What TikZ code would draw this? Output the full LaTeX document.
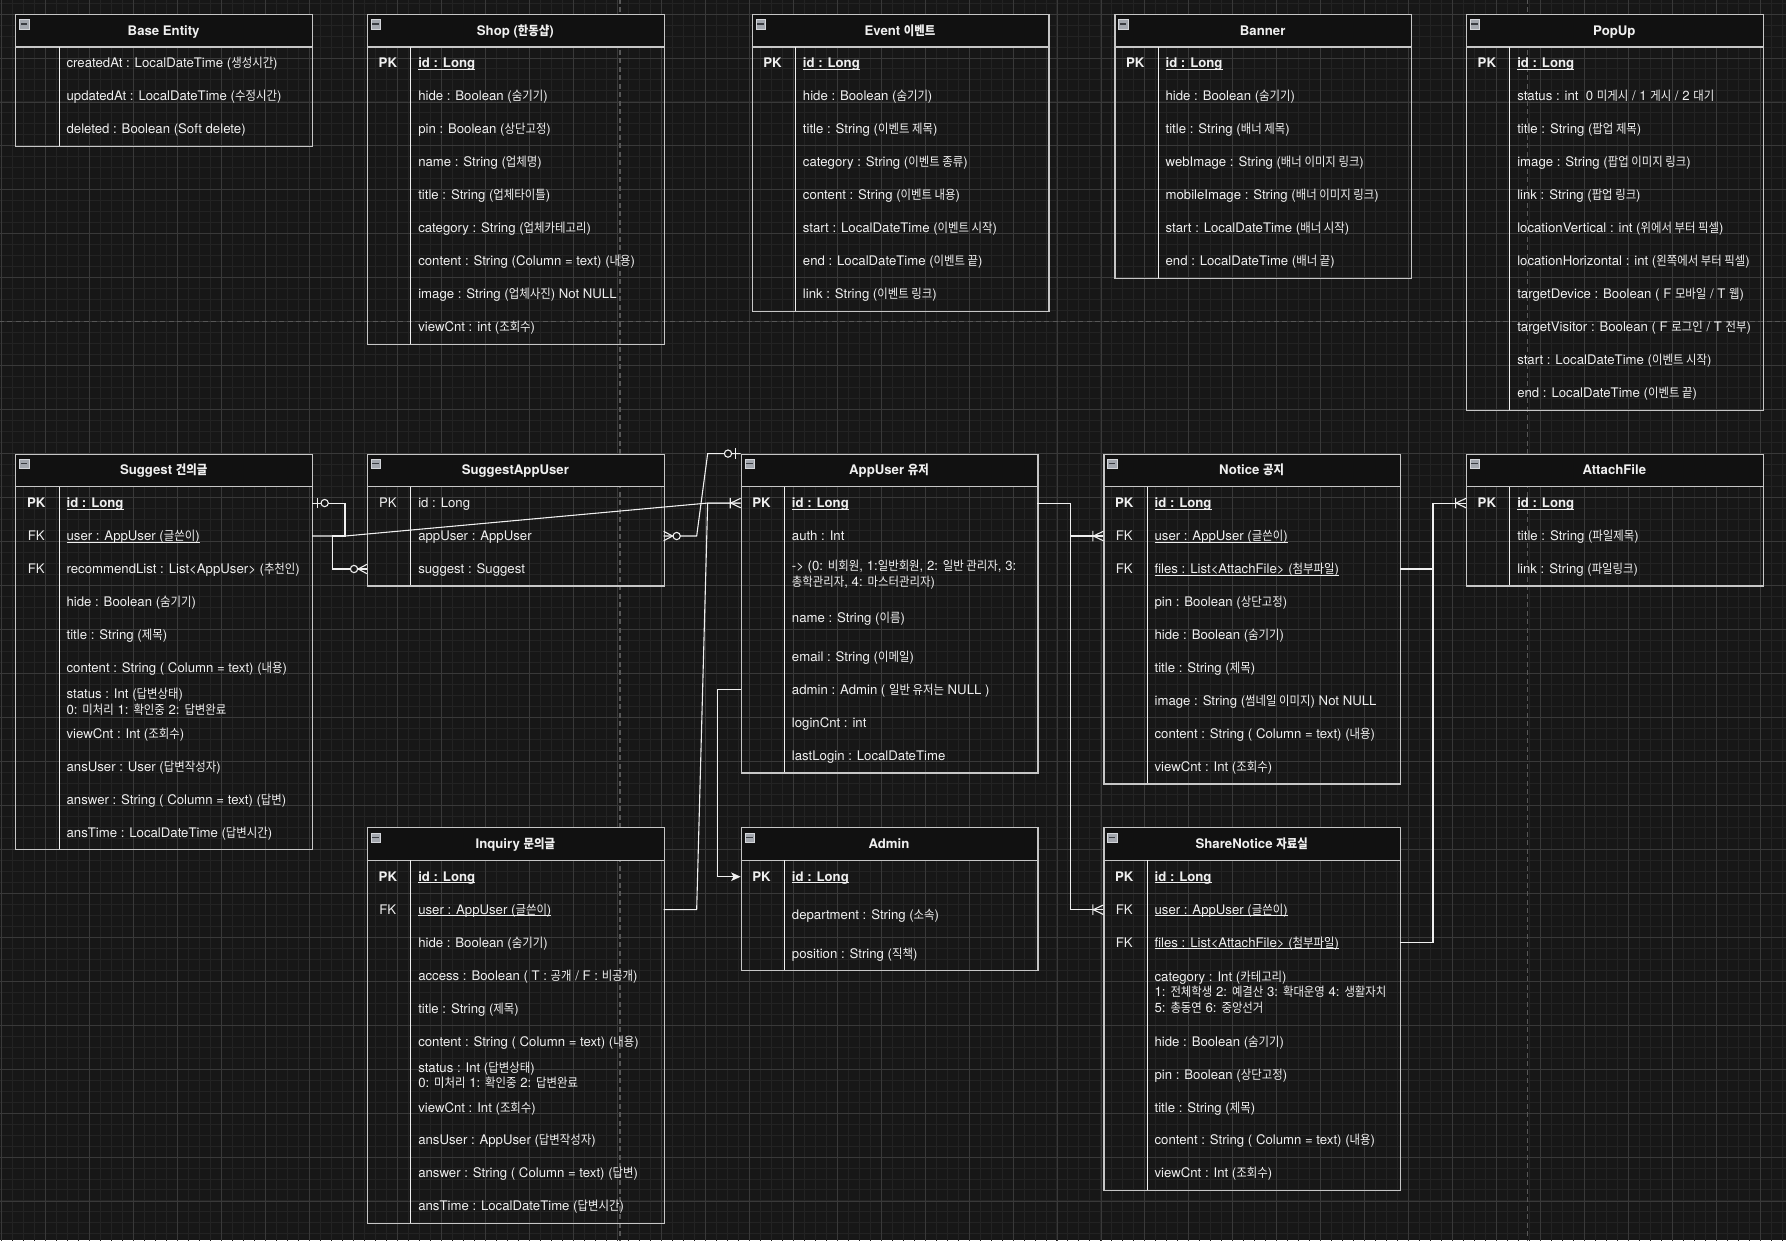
\documentclass[tikz,border=0pt]{standalone}
\usepackage{fontspec}
\setmainfont{TeX Gyre Heros}
\newfontfamily\krfont[Scale=0.96,FakeStretch=0.9]{Noto Sans CJK KR}
\usetikzlibrary{arrows.meta}
\definecolor{bg}{HTML}{171717}
\definecolor{gridminorc}{HTML}{232323}
\definecolor{gridmajorc}{HTML}{393939}
\definecolor{pagebrkc}{HTML}{575757}
\definecolor{hdrc}{HTML}{111111}
\definecolor{frmc}{HTML}{C6C6C6}
\definecolor{ink}{HTML}{F0F0F0}
\definecolor{iconfill}{HTML}{A3A7AE}
\definecolor{iconline}{HTML}{3A3D42}
\definecolor{iconbd}{HTML}{D4D6DA}

\newcommand\krt[1]{{\krfont #1}}
\newcommand\undl[1]{\setbox0=\hbox{#1}\rlap{\rule[-2.1pt]{\wd0}{0.9pt}}\box0}

\tikzset{
  gridminor/.style={draw=gridminorc, line width=0.9pt},
  gridmajor/.style={draw=gridmajorc, line width=0.8pt},
  pagebreak/.style={draw=pagebrkc, line width=1.1pt, dash pattern=on 5pt off 3.5pt},
  tblframe/.style={draw=frmc, line width=1.2pt, minimum width=296.73pt, inner sep=0pt, anchor=north west},
  hdrline/.style={draw=frmc, line width=1.2pt},
  keysep/.style={draw=ink, line width=1pt},
  tblicon/.style={draw=iconbd, fill=iconfill, line width=0.5pt, minimum size=9.3pt, inner sep=0pt, anchor=north west},
  iconminus/.style={draw=iconline, line width=1.4pt},
  hdrtxt/.style={font=\fontsize{13.19pt}{15.6pt}\selectfont\bfseries, text=ink, inner sep=0pt, anchor=base},
  rowtxt/.style={font=\fontsize{13.19pt}{15.6pt}\selectfont, text=ink, inner sep=0pt, anchor=base west},
  keytxt/.style={font=\fontsize{13.19pt}{15.6pt}\selectfont, text=ink, inner sep=0pt, anchor=base},
  keyb/.style={font=\fontsize{13.19pt}{15.6pt}\selectfont\bfseries, text=ink, inner sep=0pt, anchor=base},
  conn/.style={draw=ink, line width=1.1pt},
}

% #1 name, #2 X, #3 Y, #4 height (units), #5 title
\newcommand\ertable[5]{%
  \fill[hdrc] (#2,#3) rectangle (#2+270,#3+30);
  \node[tblframe, minimum height=#4*1.099pt] (#1) at (#2,#3) {};
  \draw[hdrline] (#2,#3+30) -- (#2+270,#3+30);
  \draw[keysep] (#2+40,#3+30) -- (#2+40,#3+#4);
  \node[hdrtxt] (#1-title) at (#2+135,#3+19.3) {#5};
  \node[tblicon] (#1-icon) at (#2+3.6,#3+4.8) {};
  \draw[iconminus] (#2+5,#3+9.1) -- (#2+10.8,#3+9.1);
}
\newcommand\rowtext[4]{\node[rowtxt] (#1) at (#2+46.5,#3) {#4};}
\newcommand\keytext[4]{\node[keytxt] (#1) at (#2+19,#3) {#4};}
\newcommand\keybold[4]{\node[keyb] (#1) at (#2+19,#3) {#4};}

\newcommand\mkonemany[2]{\draw[conn, shift={(#1)}, xscale=#2] (-9,0) -- (0,-4.3) (-9,0) -- (0,4.3) (-9.5,-4.8) -- (-9.5,4.8);}
\newcommand\mkzeromany[2]{\draw[conn, shift={(#1)}, xscale=#2] (-8,0) -- (0,-4.3) (-8,0) -- (0,4.3);
  \draw[conn, fill=bg, shift={(#1)}, xscale=#2] (-11.8,0) circle[radius=3.3];}
\newcommand\mkzeroone[2]{\draw[conn, shift={(#1)}, xscale=#2] (-4.6,-4.8) -- (-4.6,4.8);
  \draw[conn, fill=bg, shift={(#1)}, xscale=#2] (-11.5,0) circle[radius=3.3];}

\begin{document}
\begin{tikzpicture}[x=1.099pt,y=-1.099pt]
\useasboundingbox (-13.92,-12.74) rectangle (1611.2,1115.6);
\fill[bg] (-13.92,-12.74) rectangle (1611.2,1115.6);
\begin{scope}
  \clip (-13.92,-12.74) rectangle (1611.2,1115.6);
  \foreach \gx in {-2.2,7.8,...,1612} \draw[gridminor] (\gx,-14) -- (\gx,1117);
  \foreach \gy in {-10,0,...,1116} \draw[gridminor] (-15,\gy) -- (1613,\gy);
  \foreach \gx in {-12.2,27.8,...,1612} \draw[gridmajor] (\gx,-14) -- (\gx,1117);
  \foreach \gy in {0,40,...,1116} \draw[gridmajor] (-15,\gy) -- (1613,\gy);
  \draw[pagebreak] (550.2,-14) -- (550.2,1117);
  \draw[pagebreak] (1376.3,-14) -- (1376.3,1117);
  \draw[pagebreak] (-15,280) -- (1613,280);
\end{scope}

% ---------- Base Entity
\ertable{be}{0}{0}{120}{Base Entity}
\rowtext{be-r1}{0}{49.1}{createdAt : LocalDateTime (\krt{생성시간})}
\rowtext{be-r2}{0}{79.1}{updatedAt : LocalDateTime (\krt{수정시간})}
\rowtext{be-r3}{0}{109.1}{deleted : Boolean (Soft delete)}

% ---------- Shop
\ertable{shop}{320}{0}{300}{Shop (\krt{한동샵})}
\keybold{shop-k1}{320}{49.1}{PK}
\rowtext{shop-r1}{320}{49.1}{\undl{\bfseries id : Long}}
\rowtext{shop-r2}{320}{79.1}{hide : Boolean (\krt{숨기기})}
\rowtext{shop-r3}{320}{109.1}{pin : Boolean (\krt{상단고정})}
\rowtext{shop-r4}{320}{139.1}{name : String (\krt{업체명})}
\rowtext{shop-r5}{320}{169.1}{title : String (\krt{업체타이틀})}
\rowtext{shop-r6}{320}{199.1}{category : String (\krt{업체카테고리})}
\rowtext{shop-r7}{320}{229.1}{content : String (Column = text) (\krt{내용})}
\rowtext{shop-r8}{320}{259.1}{image : String (\krt{업체사진}) Not NULL}
\rowtext{shop-r9}{320}{289.1}{viewCnt : int (\krt{조회수})}

% ---------- Event
\ertable{ev}{670}{0}{270}{Event \krt{이벤트}}
\keybold{ev-k1}{670}{49.1}{PK}
\rowtext{ev-r1}{670}{49.1}{\undl{\bfseries id : Long}}
\rowtext{ev-r2}{670}{79.1}{hide : Boolean (\krt{숨기기})}
\rowtext{ev-r3}{670}{109.1}{title : String (\krt{이벤트 제목})}
\rowtext{ev-r4}{670}{139.1}{category : String (\krt{이벤트 종류})}
\rowtext{ev-r5}{670}{169.1}{content : String (\krt{이벤트 내용})}
\rowtext{ev-r6}{670}{199.1}{start : LocalDateTime (\krt{이벤트 시작})}
\rowtext{ev-r7}{670}{229.1}{end : LocalDateTime (\krt{이벤트 끝})}
\rowtext{ev-r8}{670}{259.1}{link : String (\krt{이벤트 링크})}

% ---------- Banner
\ertable{bn}{1000}{0}{240}{Banner}
\keybold{bn-k1}{1000}{49.1}{PK}
\rowtext{bn-r1}{1000}{49.1}{\undl{\bfseries id : Long}}
\rowtext{bn-r2}{1000}{79.1}{hide : Boolean (\krt{숨기기})}
\rowtext{bn-r3}{1000}{109.1}{title : String (\krt{배너 제목})}
\rowtext{bn-r4}{1000}{139.1}{webImage : String (\krt{배너 이미지 링크})}
\rowtext{bn-r5}{1000}{169.1}{mobileImage : String (\krt{배너 이미지 링크})}
\rowtext{bn-r6}{1000}{199.1}{start : LocalDateTime (\krt{배너 시작})}
\rowtext{bn-r7}{1000}{229.1}{end : LocalDateTime (\krt{배너 끝})}

% ---------- PopUp
\ertable{pu}{1320}{0}{360}{PopUp}
\keybold{pu-k1}{1320}{49.1}{PK}
\rowtext{pu-r1}{1320}{49.1}{\undl{\bfseries id : Long}}
\rowtext{pu-r2}{1320}{79.1}{status : int \ 0 \krt{미게시} / 1 \krt{게시} / 2 \krt{대기}}
\rowtext{pu-r3}{1320}{109.1}{title : String (\krt{팝업 제목})}
\rowtext{pu-r4}{1320}{139.1}{image : String (\krt{팝업 이미지 링크})}
\rowtext{pu-r5}{1320}{169.1}{link : String (\krt{팝업 링크})}
\rowtext{pu-r6}{1320}{199.1}{locationVertical : int (\krt{위에서 부터 픽셀})}
\rowtext{pu-r7}{1320}{229.1}{locationHorizontal : int (\krt{왼쪽에서 부터 픽셀})}
\rowtext{pu-r8}{1320}{259.1}{targetDevice : Boolean ( F \krt{모바일} / T \krt{웹})}
\rowtext{pu-r9}{1320}{289.1}{targetVisitor : Boolean ( F \krt{로그인} / T \krt{전부})}
\rowtext{pu-r10}{1320}{319.1}{start : LocalDateTime (\krt{이벤트 시작})}
\rowtext{pu-r11}{1320}{349.1}{end : LocalDateTime (\krt{이벤트 끝})}

% ---------- Suggest
\ertable{sg}{0}{400}{360}{Suggest \krt{건의글}}
\keybold{sg-k1}{0}{449.1}{PK}
\keytext{sg-k2}{0}{479.1}{FK}
\keytext{sg-k3}{0}{509.1}{FK}
\rowtext{sg-r1}{0}{449.1}{\undl{\bfseries id : Long}}
\rowtext{sg-r2}{0}{479.1}{\undl{user : AppUser (\krt{글쓴이})}}
\rowtext{sg-r3}{0}{509.1}{recommendList : List<AppUser> (\krt{추천인})}
\rowtext{sg-r4}{0}{539.1}{hide : Boolean (\krt{숨기기})}
\rowtext{sg-r5}{0}{569.1}{title : String (\krt{제목})}
\rowtext{sg-r6}{0}{599.1}{content : String ( Column = text) (\krt{내용})}
\rowtext{sg-r7a}{0}{623.2}{status : Int (\krt{답변상태})}
\rowtext{sg-r7b}{0}{637.2}{0: \krt{미처리} 1: \krt{확인중} 2: \krt{답변완료}}
\rowtext{sg-r8}{0}{659.1}{viewCnt : Int (\krt{조회수})}
\rowtext{sg-r9}{0}{689.1}{ansUser : User (\krt{답변작성자})}
\rowtext{sg-r10}{0}{719.1}{answer : String ( Column = text) (\krt{답변})}
\rowtext{sg-r11}{0}{749.1}{ansTime : LocalDateTime (\krt{답변시간})}

% ---------- SuggestAppUser
\ertable{sau}{320}{400}{120}{SuggestAppUser}
\keytext{sau-k1}{320}{449.1}{PK}
\rowtext{sau-r1}{320}{449.1}{id : Long}
\rowtext{sau-r2}{320}{479.1}{appUser : AppUser}
\rowtext{sau-r3}{320}{509.1}{suggest : Suggest}

% ---------- AppUser
\ertable{au}{660}{400}{290}{AppUser \krt{유저}}
\keybold{au-k1}{660}{449.1}{PK}
\rowtext{au-r1}{660}{449.1}{\undl{\bfseries id : Long}}
\rowtext{au-r2}{660}{479.1}{auth : Int}
\rowtext{au-r3a}{660}{506.8}{-> (0: \krt{비회원}, 1:\krt{일반회원}, 2: \krt{일반 관리자}, 3:}
\rowtext{au-r3b}{660}{521.0}{\krt{총학관리자}, 4: \krt{마스터관리자})}
\rowtext{au-r4}{660}{554.1}{name : String (\krt{이름})}
\rowtext{au-r5}{660}{589.1}{email : String (\krt{이메일})}
\rowtext{au-r6}{660}{619.1}{admin : Admin ( \krt{일반 유저는} NULL )}
\rowtext{au-r7}{660}{649.1}{loginCnt : int}
\rowtext{au-r8}{660}{679.1}{lastLogin : LocalDateTime}

% ---------- Notice
\ertable{nt}{990}{400}{300}{Notice \krt{공지}}
\keybold{nt-k1}{990}{449.1}{PK}
\keytext{nt-k2}{990}{479.1}{FK}
\keytext{nt-k3}{990}{509.1}{FK}
\rowtext{nt-r1}{990}{449.1}{\undl{\bfseries id : Long}}
\rowtext{nt-r2}{990}{479.1}{\undl{user : AppUser (\krt{글쓴이})}}
\rowtext{nt-r3}{990}{509.1}{\undl{files : List<AttachFile> (\krt{첨부파일})}}
\rowtext{nt-r4}{990}{539.1}{pin : Boolean (\krt{상단고정})}
\rowtext{nt-r5}{990}{569.1}{hide : Boolean (\krt{숨기기})}
\rowtext{nt-r6}{990}{599.1}{title : String (\krt{제목})}
\rowtext{nt-r7}{990}{629.1}{image : String (\krt{썸네일 이미지}) Not NULL}
\rowtext{nt-r8}{990}{659.1}{content : String ( Column = text) (\krt{내용})}
\rowtext{nt-r9}{990}{689.1}{viewCnt : Int (\krt{조회수})}

% ---------- AttachFile
\ertable{af}{1320}{400}{120}{AttachFile}
\keybold{af-k1}{1320}{449.1}{PK}
\rowtext{af-r1}{1320}{449.1}{\undl{\bfseries id : Long}}
\rowtext{af-r2}{1320}{479.1}{title : String (\krt{파일제목})}
\rowtext{af-r3}{1320}{509.1}{link : String (\krt{파일링크})}

% ---------- Inquiry
\ertable{inq}{320}{740}{360}{Inquiry \krt{문의글}}
\keybold{inq-k1}{320}{789.1}{PK}
\keytext{inq-k2}{320}{819.1}{FK}
\rowtext{inq-r1}{320}{789.1}{\undl{\bfseries id : Long}}
\rowtext{inq-r2}{320}{819.1}{\undl{user : AppUser (\krt{글쓴이})}}
\rowtext{inq-r3}{320}{849.1}{hide : Boolean (\krt{숨기기})}
\rowtext{inq-r4}{320}{879.1}{access : Boolean ( T : \krt{공개} / F : \krt{비공개})}
\rowtext{inq-r5}{320}{909.1}{title : String (\krt{제목})}
\rowtext{inq-r6}{320}{939.1}{content : String ( Column = text) (\krt{내용})}
\rowtext{inq-r7a}{320}{963.2}{status : Int (\krt{답변상태})}
\rowtext{inq-r7b}{320}{977.2}{0: \krt{미처리} 1: \krt{확인중} 2: \krt{답변완료}}
\rowtext{inq-r8}{320}{999.1}{viewCnt : Int (\krt{조회수})}
\rowtext{inq-r9}{320}{1029.1}{ansUser : AppUser (\krt{답변작성자})}
\rowtext{inq-r10}{320}{1059.1}{answer : String ( Column = text) (\krt{답변})}
\rowtext{inq-r11}{320}{1089.1}{ansTime : LocalDateTime (\krt{답변시간})}

% ---------- Admin
\ertable{adm}{660}{740}{130}{Admin}
\keybold{adm-k1}{660}{789.1}{PK}
\rowtext{adm-r1}{660}{789.1}{\undl{\bfseries id : Long}}
\rowtext{adm-r2}{660}{824.1}{department : String (\krt{소속})}
\rowtext{adm-r3}{660}{859.1}{position : String (\krt{직책})}

% ---------- ShareNotice
\ertable{sn}{990}{740}{330}{ShareNotice \krt{자료실}}
\keybold{sn-k1}{990}{789.1}{PK}
\keytext{sn-k2}{990}{819.1}{FK}
\keytext{sn-k3}{990}{849.1}{FK}
\rowtext{sn-r1}{990}{789.1}{\undl{\bfseries id : Long}}
\rowtext{sn-r2}{990}{819.1}{\undl{user : AppUser (\krt{글쓴이})}}
\rowtext{sn-r3}{990}{849.1}{\undl{files : List<AttachFile> (\krt{첨부파일})}}
\rowtext{sn-r4a}{990}{880.1}{category : Int (\krt{카테고리})}
\rowtext{sn-r4b}{990}{894.3}{1: \krt{전체학생} 2: \krt{예결산} 3: \krt{확대운영} 4: \krt{생활자치}}
\rowtext{sn-r4c}{990}{908.4}{5: \krt{총동연} 6: \krt{중앙선거}}
\rowtext{sn-r5}{990}{939.1}{hide : Boolean (\krt{숨기기})}
\rowtext{sn-r6}{990}{969.1}{pin : Boolean (\krt{상단고정})}
\rowtext{sn-r7}{990}{999.1}{title : String (\krt{제목})}
\rowtext{sn-r8}{990}{1029.1}{content : String ( Column = text) (\krt{내용})}
\rowtext{sn-r9}{990}{1059.1}{viewCnt : Int (\krt{조회수})}

% ---------- ports
\coordinate (sgIdE) at (270,445);
\coordinate (sgUserE) at (270,475);
\coordinate (sauSugW) at (320,505);
\coordinate (sauAppE) at (590,475);
\coordinate (auIdW) at (660,445);
\coordinate (auIdE) at (930,445);
\coordinate (auAdminW) at (660,615);
\coordinate (admIdW) at (660,785);
\coordinate (inqUserE) at (590,815);
\coordinate (ntUserW) at (990,475);
\coordinate (ntFilesE) at (1260,505);
\coordinate (snUserW) at (990,815);
\coordinate (snFilesE) at (1260,845);
\coordinate (afIdW) at (1320,445);

% ---------- connectors
\draw[conn] (sgIdE) -| (300,475) -- (289,475) |- (sauSugW);
\draw[conn] (sgUserE) -- (300,475) -- (630,445) -- (auIdW);
\draw[conn] (sauAppE) -- (620,475) -- (630,400) -- (au.north west);
\draw[conn] (inqUserE) -- (620,815) -- (630,445) -- (auIdW);
\draw[conn, -{Stealth[length=9.5pt,width=8.6pt,inset=2.4pt]}] (auAdminW) -- (639,615) |- (admIdW);
\draw[conn] (auIdE) -- (960,445) |- (ntUserW);
\draw[conn] (auIdE) -- (960,445) |- (snUserW);
\draw[conn] (ntFilesE) -- (1290,505) |- (afIdW);
\draw[conn] (snFilesE) -- (1290,845) |- (afIdW);

\mkzeroone{sgIdE}{-1}
\mkzeromany{sauSugW}{1}
\mkonemany{auIdW}{1}
\mkzeromany{sauAppE}{-1}
\mkzeroone{au.north west}{1}
\mkonemany{ntUserW}{1}
\mkonemany{snUserW}{1}
\mkonemany{afIdW}{1}
\end{tikzpicture}
\end{document}
